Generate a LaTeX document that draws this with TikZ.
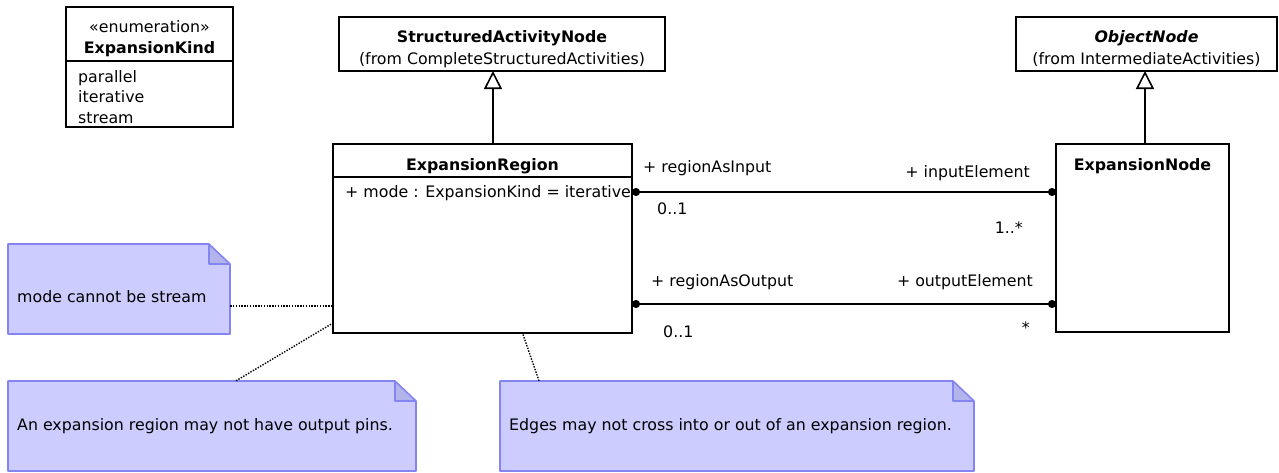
\documentclass[tikz,border=0pt]{standalone}
\usepackage{fontspec}
\setmainfont{DejaVu Sans}
\usetikzlibrary{arrows.meta,positioning,fit,calc}
\definecolor{notefill}{HTML}{CCCCFF}
\definecolor{noteline}{HTML}{8585F2}
\definecolor{foldfill}{HTML}{B4B4EC}
\tikzset{
  cls/.style={draw, line width=1.6pt, fill=white, inner sep=0pt, outer sep=0pt},
  clsline/.style={line width=1.6pt},
  txt/.style={font=\fontsize{15.8}{19}\selectfont, inner sep=0pt},
  ttl/.style={font=\fontsize{15.8}{19}\selectfont\bfseries, inner sep=0pt},
  gen/.style={line width=1.6pt, -{Triangle[open, length=18pt, width=18pt, line width=1.6pt]}},
  assoc/.style={line width=1.8pt, {Circle[length=8pt]}-{Circle[length=8pt]}},
  anchorline/.style={line width=1.4pt, dash pattern=on 1.4pt off 1.4pt},
  noteedge/.style={draw=noteline, line width=1.6pt, line join=round},
}
% note with folded corner: name, x1, y1, x2, y2, text baseline, text
\newcommand{\memo}[7]{%
  \fill[notefill] (#2,#3) -- (#4-21,#3) -- (#4,#3+20) -- (#4,#5) -- (#2,#5) -- cycle;
  \fill[foldfill] (#4-21,#3) -- (#4-21,#3+20) -- (#4,#3+20) -- cycle;
  \draw[noteedge] (#4-21,#3) -- (#2,#3) -- (#2,#5) -- (#4,#5) -- (#4,#3+20) -- cycle
    (#4-21,#3) -- (#4-21,#3+20) -- (#4,#3+20);
  \node[fit={(#2,#3) (#4,#5)}, inner sep=0pt] (#1) {};
  \node[txt, anchor=base west] (#1-txt) at (#2+9,#6) {#7};}
% class rectangle: name, x1, y1, x2, y2
\newcommand{\clsbox}[5]{\node[cls, fit={(#2,#3) (#4,#5)}] (#1) {};}

\begin{document}
\begin{tikzpicture}[x=1pt,y=-1pt]
  \useasboundingbox (0,0) rectangle (1279,472);
  % enumeration
  \clsbox{kind}{66}{7}{233}{127}
  \draw[clsline] (kind.west |- 0,61) -- (kind.east |- 0,61);
  \node[txt, anchor=base] (kind-st) at (kind.center |- 0,32) {«enumeration»};
  \node[ttl, anchor=base] (kind-nm) at (kind.center |- 0,53) {ExpansionKind};
  \foreach \y/\lit in {82/parallel, 102/iterative, 123/stream}
    \node[txt, anchor=base west] (kind-\lit) at (78,\y) {\lit};
  % superclasses
  \clsbox{san}{339}{17}{665}{71}
  \node[ttl, anchor=base] (san-nm) at (san.center |- 0,42) {StructuredActivityNode};
  \node[txt, anchor=base] (san-from) at (san.center |- 0,64) {(from CompleteStructuredActivities)};
  \clsbox{on}{1016}{17}{1277}{71}
  \node[ttl, anchor=base] (on-nm) at (on.center |- 0,42) {\itshape ObjectNode};
  \node[txt, anchor=base] (on-from) at (on.center |- 0,64) {(from IntermediateActivities)};
  % classes
  \clsbox{er}{333}{144}{632}{333}
  \draw[clsline] (er.west |- 0,177) -- (er.east |- 0,177);
  \node[ttl, anchor=base] (er-nm) at (er.center |- 0,170) {ExpansionRegion};
  \node[txt, anchor=base west] (er-mode) at (345,197) {+ mode : ExpansionKind = iterative};
  \clsbox{en}{1056}{144}{1229}{332}
  \node[ttl, anchor=base] (en-nm) at (en.center |- 0,170) {ExpansionNode};
  % generalizations
  \draw[gen] ([xshift=10.5pt]er.north) -- ([xshift=10.5pt]er.north |- san.south);
  \draw[gen] ([xshift=2.5pt]en.north) -- ([xshift=2.5pt]en.north |- on.south);
  % associations
  \coordinate (inA) at ([yshift=-48pt]er.north east);
  \coordinate (outA) at ([yshift=-160pt]er.north east);
  \draw[assoc] (inA) -- (inA -| en.west);
  \draw[assoc] (outA) -- (outA -| en.west);
  \node[txt, anchor=base west] (inrole) at (643,172) {+ regionAsInput};
  \node[txt, anchor=base east] (inel) at (1030,177) {+ inputElement};
  \node[txt, anchor=base west] (inmul) at (657,214) {0..1};
  \node[txt, anchor=base east] (inelmul) at (1023,233) {1..*};
  \node[txt, anchor=base west] (outrole) at (651,286) {+ regionAsOutput};
  \node[txt, anchor=base east] (outel) at (1033,286) {+ outputElement};
  \node[txt, anchor=base west] (outmul) at (663,337) {0..1};
  \node[txt, anchor=base east] (outelmul) at (1030,333) {*};
  % notes
  \memo{n1}{8}{244}{230}{334}{302}{mode cannot be stream}
  \memo{n2}{8}{381}{416}{471}{430}{An expansion region may not have output pins.}
  \memo{n3}{500}{381}{974}{471}{430}{Edges may not cross into or out of an expansion region.}
  \coordinate (n1a) at ([yshift=-17pt]n1.east);
  \draw[anchorline] (n1a) -- (n1a -| er.west);
  \draw[anchorline] ([xshift=24pt]n2.north) -- ([yshift=10pt]er.south west);
  \draw[anchorline] ([xshift=-198pt]n3.north) -- ([xshift=40pt]er.south);
\end{tikzpicture}
\end{document}
